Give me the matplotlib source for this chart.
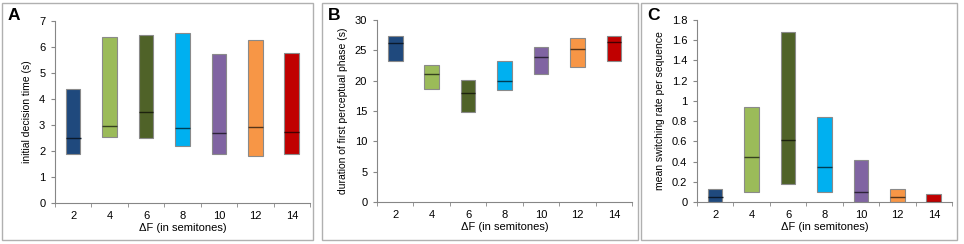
import matplotlib
matplotlib.use("Agg")
import matplotlib.pyplot as plt
from matplotlib.patches import Rectangle
import numpy as np

categories = ["2", "4", "6", "8", "10", "12", "14"]
colors = ["#1F497D", "#9BBB59", "#4F6228", "#00B0F0", "#8064A2", "#F79646", "#C00000"]

# Panel A: initial decision time (s)
a_low = [1.9, 2.55, 2.5, 2.2, 1.9, 1.8, 1.9]
a_med = [2.5, 2.95, 3.5, 2.9, 2.68, 2.92, 2.73]
a_high = [4.4, 6.4, 6.47, 6.55, 5.72, 6.28, 5.77]

# Panel B: duration of first perceptual phase (s)
b_low = [23.2, 18.7, 14.9, 18.4, 21.1, 22.2, 23.2]
b_med = [26.2, 21.1, 17.9, 20.0, 23.9, 25.2, 26.4]
b_high = [27.4, 22.6, 20.1, 23.3, 25.6, 27.1, 27.3]

# Panel C: mean switching rate per sequence
c_low = [0.0, 0.1, 0.18, 0.1, 0.0, 0.0, 0.0]
c_med = [0.05, 0.45, 0.61, 0.35, 0.1, 0.05, 0.0]
c_high = [0.13, 0.94, 1.68, 0.84, 0.42, 0.13, 0.08]

W, H = 964, 244
fig = plt.figure(figsize=(W / 100, H / 100), dpi=100)
plt.rcParams['font.family'] = ['Liberation Sans', 'DejaVu Sans']

axis_grey = "#868686"


def darker(c, f=0.55):
    rgb = np.array(matplotlib.colors.to_rgb(c))
    return tuple(rgb * f)


def panel(box, axbox, letter, low, med, high, ylim, yticks, yticklabels, ylabel):
    bx0, bx1, by0, by1 = box
    fig.patches.append(Rectangle((bx0 / W, 1 - by1 / H), (bx1 - bx0) / W, (by1 - by0) / H,
                                 transform=fig.transFigure, fill=False,
                                 edgecolor="#b0b0b0", lw=1.0))
    fig.text((bx0 + 6) / W, 1 - (by0 + 13) / H, letter, fontsize=12.5, fontweight="bold",
             va="center", ha="left", family=['Liberation Sans', 'DejaVu Sans'])
    x0, x1, y0, y1 = axbox
    ax = fig.add_axes([x0 / W, 1 - y1 / H, (x1 - x0) / W, (y1 - y0) / H])
    x = np.arange(len(categories))
    lo = np.array(low)
    hi = np.array(high)
    w = 0.4
    ax.bar(x, hi - lo, bottom=lo, width=w, color=colors, edgecolor="#8a8a8a", lw=0.8, zorder=2)
    for i in range(len(categories)):
        ax.hlines(med[i], x[i] - w / 2, x[i] + w / 2, color=darker(colors[i], 0.35), lw=1.0, zorder=3)
    ax.set_xlim(-0.5, len(categories) - 0.5)
    ax.set_ylim(*ylim)
    ax.set_yticks(yticks)
    ax.set_yticklabels(yticklabels, fontsize=8)
    ax.set_xticks(x)
    ax.set_xticklabels(categories, fontsize=8)
    ax.set_xticks(np.arange(-0.5, len(categories), 1.0), minor=True)
    ax.tick_params(axis="x", which="major", length=0, pad=6)
    ax.tick_params(axis="x", which="minor", length=3, color=axis_grey, direction="out")
    ax.tick_params(axis="y", length=3, color=axis_grey, direction="out", pad=4)
    for s in ["top", "right"]:
        ax.spines[s].set_visible(False)
    for s in ["left", "bottom"]:
        ax.spines[s].set_color(axis_grey)
        ax.spines[s].set_linewidth(0.8)
    ax.set_xlabel("\u0394F (in semitones)", fontsize=8, labelpad=1)
    ax.set_ylabel(ylabel, fontsize=7.5, labelpad=5)
    return ax


panel((2, 313, 3, 240), (55, 310, 21, 203), "A", a_low, a_med, a_high,
      (0, 7), range(0, 8), [str(v) for v in range(0, 8)], "initial decision time (s)")
panel((322, 638, 3, 240), (377, 632, 20, 202), "B", b_low, b_med, b_high,
      (0, 30), range(0, 31, 5), [str(v) for v in range(0, 31, 5)], "duration of first perceptual phase (s)")
cy = [0, 0.2, 0.4, 0.6, 0.8, 1.0, 1.2, 1.4, 1.6, 1.8]
cyl = ["0", "0.2", "0.4", "0.6", "0.8", "1", "1.2", "1.4", "1.6", "1.8"]
panel((641, 957, 3, 240), (697, 952, 20, 202), "C", c_low, c_med, c_high,
      (0, 1.8), cy, cyl, "mean switching rate per sequence")

fig.savefig("out.png", dpi=100)
